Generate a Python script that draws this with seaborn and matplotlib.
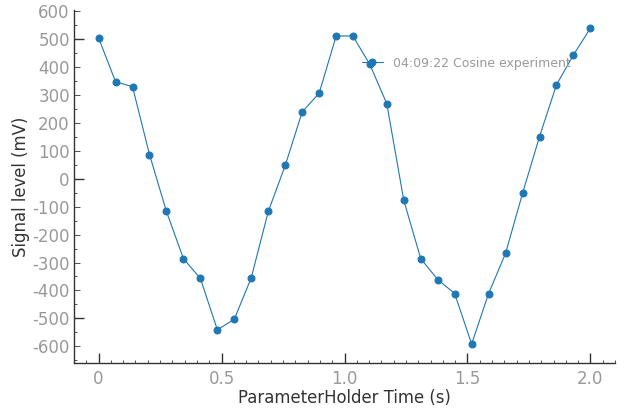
import matplotlib
matplotlib.use('Agg')
import matplotlib.pyplot as plt
import seaborn as sns
from matplotlib.ticker import MultipleLocator, NullFormatter

# sampled time points (s) and measured signal (mV)
time_s = [0.000, 0.069, 0.138, 0.207, 0.276, 0.345, 0.414, 0.483, 0.552, 0.621,
          0.690, 0.759, 0.828, 0.897, 0.966, 1.034, 1.103, 1.172, 1.241, 1.310,
          1.379, 1.448, 1.517, 1.586, 1.655, 1.724, 1.793, 1.862, 1.931, 2.000]
signal_mv = [505, 348, 330, 87, -117, -286, -357, -541, -503, -354,
             -117, 48, 240, 307, 512, 512, 410, 269, -77, -286,
             -361, -411, -592, -411, -267, -52, 151, 337, 444, 540]
series_label = '04:09:22 Cosine experiment'

sns.set_style('ticks')
plt.rcParams['font.family'] = ['DejaVu Sans']
plt.rcParams['axes.unicode_minus'] = False

LINE_BLUE = '#1f77b4'
TICK_GREY = '#999999'
AXIS_DARK = '#333333'

fig = plt.figure(figsize=(6.25, 4.17), dpi=100)
ax = fig.add_axes([0.1184, 0.1295, 0.8656, 0.8465])

sns.lineplot(x=time_s, y=signal_mv, ax=ax, color=LINE_BLUE, linewidth=0.8,
             marker='o', markersize=5, markeredgecolor=LINE_BLUE, label=series_label)

ax.set_xlim(-0.1, 2.1)
ax.set_ylim(-660, 605)
ax.set_xlabel('ParameterHolder Time (s)', fontsize=11.9, color=AXIS_DARK, labelpad=1)
ax.set_ylabel('Signal level (mV)', fontsize=11.9, color=AXIS_DARK, labelpad=1.5)

for side in ['top', 'right']:
    ax.spines[side].set_visible(False)
for side in ['left', 'bottom']:
    ax.spines[side].set_color(AXIS_DARK)
    ax.spines[side].set_linewidth(1.0)

ax.xaxis.set_minor_locator(MultipleLocator(0.05))
ax.set_xticks([0, 0.5, 1.0, 1.5, 2.0])
ax.set_xticklabels(['0', '0.5', '1.0', '1.5', '2.0'])
ax.yaxis.set_major_locator(MultipleLocator(100))
ax.yaxis.set_minor_locator(MultipleLocator(50))

ax.tick_params(axis='x', which='major', direction='in', length=7, width=1, color=AXIS_DARK,
               labelsize=12, labelcolor=TICK_GREY, pad=5)
ax.tick_params(axis='x', which='minor', direction='in', length=2.5, width=0.6, color=AXIS_DARK)
ax.tick_params(axis='y', which='major', direction='in', length=4, width=0.6, color=AXIS_DARK,
               labelsize=12, labelcolor=TICK_GREY, pad=3)
ax.tick_params(axis='y', which='minor', direction='in', length=2, width=0.6, color=AXIS_DARK)

# longer ticks at every 500 mV
sec = ax.secondary_yaxis('left')
sec.set_yticks([-500, 0, 500])
sec.yaxis.set_major_formatter(NullFormatter())
sec.yaxis.set_minor_locator(MultipleLocator(1000))
sec.tick_params(axis='y', which='major', direction='in', length=7, width=1, color=AXIS_DARK)
sec.spines['left'].set_visible(False)

ax.legend(loc='center left', bbox_to_anchor=(0.532, 0.849), frameon=False,
          fontsize=9.0, labelcolor=TICK_GREY, borderpad=0, borderaxespad=0,
          handlelength=1.7, handletextpad=0.8)

fig.savefig('out.png', dpi=100)
